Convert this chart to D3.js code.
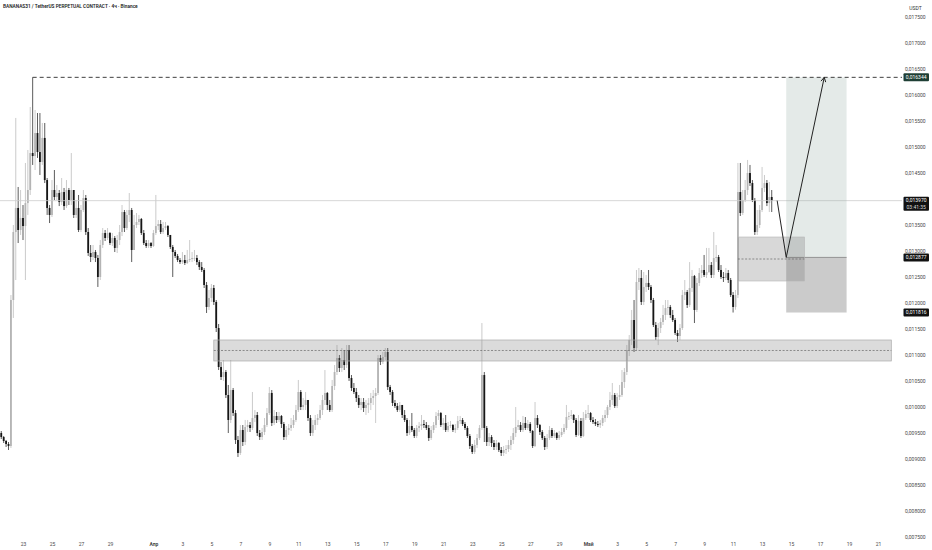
<!DOCTYPE html>
<html>
<head>
<meta charset="utf-8">
<script src="https://cdn.jsdelivr.net/npm/d3@7"></script>
<style>
    body { margin: 0; background: #fff; }
    svg { display: block; font-family: Roboto, "Liberation Sans", Arial, sans-serif; }
</style>
</head>
<body>
<div id="chart"></div>
<script>
// BANANAS31/USDT perp, 4h bars. Prices are stored as USDT x 1e6, open = previous close
const title = 'BANANAS31 / TetherUS PERPETUAL CONTRACT · 4ч · Binance';
const firstBarTime = Date.UTC(2025, 2, 21, 12);
const barHours = 4;
const firstOpen = 9496;

const closes = [
    9419, 9343, 9285, 9246, 12057, 13366, 13829, 13405, 13636, 13481,
    13924, 14175, 14887, 14829, 15272, 14906, 14714, 15177, 14367, 13829,
    13694, 14175, 14040, 14117, 13943, 14136, 13866, 14175, 13982, 14175,
    13694, 13829, 13405, 13790, 14021, 13366, 12962, 12885, 12981, 12866,
    12500, 13116, 13347, 13251, 13347, 13154, 13251, 13059, 13212, 13366,
    13751, 13443, 13694, 13790, 13020, 13501, 13559, 13617, 13347, 13154,
    13097, 13154, 13097, 13347, 13481, 13520, 13366, 13443, 13481, 13309,
    13078, 12981, 12905, 12827, 12788, 12827, 12769, 12827, 12846, 12866,
    12866, 12788, 12692, 12635, 12346, 11923, 12096, 12288, 12019, 11518,
    10767, 10575, 10671, 10228, 9747, 10324, 9881, 9362, 9112, 9554,
    9323, 9612, 9650, 9593, 9785, 9843, 9496, 9419, 9516, 9650,
    9881, 10267, 9689, 9824, 9747, 9824, 9670, 9419, 9554, 9593,
    9650, 9747, 9939, 10286, 9997, 10036, 10132, 9785, 9496, 9650,
    9747, 9785, 9939, 10132, 10267, 10036, 9939, 10401, 10671, 10940,
    10748, 10902, 10805, 11094, 10555, 10363, 10286, 10170, 10036, 10093,
    9978, 10036, 10074, 10170, 10209, 10267, 10940, 10864, 10960, 11056,
    10382, 10286, 10074, 10016, 9939, 10036, 9843, 9747, 9496, 9631,
    9554, 9439, 9593, 9631, 9670, 9650, 9593, 9400, 9554, 9650,
    9824, 9881, 9650, 9689, 9554, 9631, 9650, 9554, 9593, 9728,
    9747, 9670, 9593, 9439, 9246, 9131, 9265, 9400, 9593, 10613,
    9593, 9323, 9419, 9304, 9227, 9304, 9169, 9112, 9169, 9188,
    9265, 9362, 9496, 9612, 9650, 9554, 9689, 9593, 9670, 9535,
    9246, 9785, 9650, 9516, 9400, 9227, 9400, 9554, 9439, 9496,
    9400, 9458, 9516, 9593, 9804, 9824, 9843, 9747, 9458, 9728,
    9439, 9785, 9862, 9881, 9747, 9708, 9670, 9650, 9689, 9785,
    9843, 9997, 10132, 10228, 10016, 10190, 10228, 10478, 10671, 11094,
    11287, 11672, 11133, 12404, 12481, 12019, 12308, 12385, 12308, 12057,
    11576, 11345, 11518, 11634, 11768, 11903, 11923, 11768, 11672, 11422,
    11364, 11518, 12153, 12211, 11961, 12288, 12519, 11865, 12385, 12577,
    12635, 12539, 12596, 12731, 12539, 12866, 12885, 12635, 12500, 12481,
    12577, 12442, 12153, 11923, 12153, 14136, 13732, 13982, 14175, 14502,
    14309, 13982, 13366, 13501, 13790, 14214, 14309, 13924, 14040, 13970
];

const highs = [
    9535, 9438, 9362, 9323, 12153, 13501, 15562, 14233, 14175, 13886,
    14695, 14945, 15773, 16344, 15715, 15657, 15657, 15465, 15465, 14406,
    13886, 14367, 14560, 14271, 14175, 14406, 14214, 14367, 14214, 14887,
    14175, 13982, 14079, 13886, 14175, 14079, 13443, 13116, 13116, 13020,
    12924, 13212, 13443, 13405, 13443, 13366, 13347, 13289, 13309, 13501,
    13886, 13790, 13790, 14117, 13829, 13694, 13732, 13694, 13636, 13405,
    13212, 13212, 13174, 13405, 14079, 13597, 13597, 13559, 13559, 13501,
    13309, 13116, 13020, 12943, 12866, 12981, 12924, 13020, 13212, 12981,
    13020, 12924, 12827, 12788, 12673, 12404, 12250, 12365, 12346, 12057,
    11595, 10864, 10902, 10709, 10421, 10902, 10363, 9939, 9439, 9650,
    9650, 9747, 9747, 9708, 10286, 9939, 9901, 9554, 9593, 9785,
    9978, 10382, 10324, 9939, 9901, 9901, 9843, 9708, 9631, 9670,
    9785, 9843, 10036, 10517, 10324, 10170, 10286, 10132, 9843, 9747,
    9843, 9862, 10036, 10228, 10709, 10286, 10132, 10517, 10805, 11190,
    10998, 11133, 11094, 11190, 11190, 10613, 10459, 10363, 10228, 10170,
    10170, 10132, 10170, 10267, 10324, 10363, 10998, 10998, 11056, 11133,
    11133, 10421, 10324, 10132, 10074, 10093, 10036, 9939, 9785, 9747,
    9881, 9593, 9650, 9708, 9843, 9747, 9708, 9650, 9631, 9708,
    9901, 9939, 9901, 9785, 9843, 9708, 9728, 9670, 9670, 9824,
    9824, 9785, 9708, 9631, 9477, 9285, 9362, 9477, 9650, 11614,
    10671, 9631, 9496, 9458, 9362, 9362, 9323, 9227, 9246, 9265,
    9362, 9439, 9593, 9997, 9747, 9708, 9824, 9804, 9747, 9708,
    9554, 10093, 9843, 9670, 9554, 9439, 9477, 9631, 9593, 9554,
    9516, 9535, 9593, 9670, 10036, 9901, 9939, 9862, 9785, 9843,
    9785, 9901, 9939, 10036, 9901, 9804, 9766, 9728, 9747, 9843,
    9939, 10036, 10286, 10459, 10267, 10267, 10421, 10709, 10748, 11190,
    11383, 11865, 12057, 12635, 12673, 12635, 12596, 12539, 12635, 12346,
    12096, 11634, 11614, 11711, 11961, 12057, 12057, 11961, 11865, 11711,
    11480, 11595, 12250, 12442, 12250, 12788, 12635, 12539, 12481, 12673,
    12731, 12924, 13059, 13059, 12788, 13366, 13116, 12924, 12731, 12596,
    12673, 12635, 12481, 12211, 12250, 14695, 14695, 14175, 14367, 14753,
    14657, 14367, 14021, 13790, 13886, 14618, 14464, 14367, 14329, 14175
];

const lows = [
    9381, 9304, 9227, 9169, 9208, 11711, 12442, 13154, 13309, 13212,
    12442, 13694, 14079, 14657, 14560, 14792, 14464, 14657, 14309, 13694,
    13539, 13655, 13982, 13982, 13866, 13886, 13790, 13829, 13886, 13886,
    13636, 13636, 13366, 13366, 13751, 13309, 12905, 12788, 12827, 12788,
    12308, 12442, 13059, 13193, 13212, 13116, 13097, 12981, 12962, 13116,
    13289, 13366, 13405, 13559, 12788, 13020, 13443, 13501, 13309, 13116,
    13059, 13059, 13059, 13078, 13309, 13405, 13328, 13328, 13405, 13270,
    13039, 12500, 12866, 12788, 12750, 12750, 12731, 12750, 12788, 12788,
    12808, 12731, 12635, 12596, 12288, 11807, 11865, 12019, 11961, 11441,
    10709, 10517, 10498, 10170, 9496, 9689, 9824, 9285, 9035, 9073,
    9246, 9265, 9516, 9516, 9554, 9708, 9439, 9362, 9362, 9458,
    9612, 9843, 9631, 9650, 9689, 9708, 9593, 9362, 9362, 9458,
    9535, 9593, 9708, 9901, 9939, 9939, 9939, 9728, 9439, 9439,
    9554, 9650, 9747, 9843, 10036, 9939, 9901, 9901, 10324, 10613,
    10671, 10671, 10709, 10748, 10498, 10305, 10247, 10093, 9978, 9939,
    9901, 9843, 9881, 9939, 10036, 9689, 10228, 10805, 10825, 10902,
    10324, 10228, 10016, 9978, 9901, 9901, 9785, 9708, 9439, 9458,
    9516, 9400, 9400, 9516, 9554, 9593, 9554, 9343, 9362, 9496,
    9593, 9747, 9612, 9554, 9516, 9516, 9593, 9516, 9496, 9554,
    9670, 9631, 9554, 9400, 9188, 9092, 9092, 9208, 9362, 9554,
    9323, 9246, 9246, 9227, 9169, 9169, 9131, 9054, 9054, 9092,
    9131, 9169, 9285, 9419, 9554, 9516, 9516, 9554, 9554, 9496,
    9208, 9227, 9593, 9458, 9362, 9169, 9188, 9362, 9400, 9400,
    9362, 9362, 9419, 9477, 9554, 9747, 9766, 9689, 9419, 9439,
    9400, 9419, 9747, 9785, 9708, 9670, 9631, 9612, 9593, 9631,
    9708, 9785, 9939, 10036, 9978, 9978, 10132, 10190, 10363, 10613,
    10979, 11190, 11056, 11094, 12250, 11961, 11961, 12211, 12250, 11999,
    11537, 11287, 11190, 11422, 11576, 11672, 11768, 11711, 11634, 11383,
    11249, 11287, 11480, 12057, 11903, 11923, 12211, 11614, 11826, 12327,
    12481, 12500, 12481, 12577, 12481, 12481, 12788, 12596, 12462, 12404,
    12442, 12385, 12115, 11816, 11870, 12096, 13674, 13694, 13943, 14079,
    14252, 13943, 13309, 13309, 13443, 13751, 14136, 13866, 13751, 13751
];

// levels drawn on the chart (USDT x 1e6)
const resistanceLevel = 16344;
const lastPrice = 13970;
const countdown = '03:41:35';
const supportZone = [11287, 10883];
const supportZoneTime = ['2025-04-05T04:00Z', '2025-05-21T22:00Z'];
const demandBox = [13270, 12423];
const demandBoxTime = ['2025-05-11T08:00Z', '2025-05-15T22:00Z'];
const tradeLevels = [16344, 12877, 11816];     // target, entry, stop
const tradeTime = ['2025-05-14T16:00Z', '2025-05-18T20:00Z'];
const pathTimes = ['2025-05-14T01:00Z', '2025-05-14T16:00Z', '2025-05-17T07:00Z'];
const pathPrices = [13970, 12877, 16344];

const priceTicks = [7500, 8000, 8500, 9000, 9500, 10000, 10500, 11000, 11500, 12000,
    12500, 13000, 13500, 14000, 14500, 15000, 15500, 16000, 16500, 17000, 17500];
const marchDays = [23, 25, 27, 29];
const aprilDays = [1, 3, 5, 7, 9, 11, 13, 15, 17, 19, 21, 23, 25, 27, 29];
const mayDays = [1, 3, 5, 7, 9, 11, 13, 15, 17, 19, 21];
const monthNames = { 3: 'Апр', 4: 'Май' };

const width = 932,
    height = 550,
    plotRight = 902,
    fontSize = 5,
    upColor = '#b4b4b4',
    downColor = '#161616',
    p = v => v / 1e6;

const svg = d3.select('#chart')
    .append('svg')
    .attr('width', width)
    .attr('height', height);

svg.append('rect').attr('width', width).attr('height', height).attr('fill', '#fff');

const x = d3.scaleUtc()
        .domain([Date.UTC(2025, 2, 23), Date.UTC(2025, 4, 21)])
        .range([23, 878]),
    y = d3.scaleLinear()
        .domain([0.0075, 0.0175])
        .range([536.7, 17.3]);

// Build bars
const bars = closes.map((c, i) => {
    const o = i ? closes[i - 1] : firstOpen;
    return {
        t: new Date(firstBarTime + i * barHours * 3600e3),
        o: p(o),
        c: p(c),
        h: p(Math.max(highs[i], o, c)),
        l: p(Math.min(lows[i], o, c))
    };
});

// Candles
const candles = svg.append('g').selectAll('g')
    .data(bars)
    .enter()
    .append('g');

candles.append('line')
    .attr('x1', d => x(d.t))
    .attr('x2', d => x(d.t))
    .attr('y1', d => y(d.h))
    .attr('y2', d => y(d.l))
    .attr('stroke', d => d.c >= d.o ? upColor : downColor)
    .attr('stroke-width', 0.7);

candles.append('rect')
    .attr('x', d => x(d.t) - 0.9)
    .attr('width', 1.8)
    .attr('y', d => y(Math.max(d.o, d.c)))
    .attr('height', d => Math.max(0.8, Math.abs(y(d.o) - y(d.c))))
    .attr('fill', d => d.c >= d.o ? upColor : downColor);

// Last price line
svg.append('line')
    .attr('x1', 0).attr('x2', plotRight)
    .attr('y1', y(p(lastPrice))).attr('y2', y(p(lastPrice)))
    .attr('stroke', '#cdcdcd')
    .attr('stroke-width', 0.8);

// Support zone
const zx0 = x(new Date(supportZoneTime[0])), zx1 = x(new Date(supportZoneTime[1]));
svg.append('rect')
    .attr('x', zx0).attr('width', zx1 - zx0)
    .attr('y', y(p(supportZone[0])))
    .attr('height', y(p(supportZone[1])) - y(p(supportZone[0])))
    .attr('fill', 'rgba(125,125,125,0.28)')
    .attr('stroke', '#a9a9a9')
    .attr('stroke-width', 0.7);
svg.append('line')
    .attr('x1', zx0).attr('x2', zx1)
    .attr('y1', y(p((supportZone[0] + supportZone[1]) / 2)))
    .attr('y2', y(p((supportZone[0] + supportZone[1]) / 2)))
    .attr('stroke', '#555')
    .attr('stroke-width', 0.6)
    .attr('stroke-dasharray', '2,1.6');

// Trade setup (target / stop)
const tx0 = x(new Date(tradeTime[0])), tx1 = x(new Date(tradeTime[1]));
svg.append('rect')
    .attr('x', tx0).attr('width', tx1 - tx0)
    .attr('y', y(p(tradeLevels[0])))
    .attr('height', y(p(tradeLevels[1])) - y(p(tradeLevels[0])))
    .attr('fill', 'rgba(150,172,166,0.26)');
svg.append('rect')
    .attr('x', tx0).attr('width', tx1 - tx0)
    .attr('y', y(p(tradeLevels[1])))
    .attr('height', y(p(tradeLevels[2])) - y(p(tradeLevels[1])))
    .attr('fill', 'rgba(110,110,110,0.36)');
svg.append('line')
    .attr('x1', tx0).attr('x2', tx1)
    .attr('y1', y(p(tradeLevels[1]))).attr('y2', y(p(tradeLevels[1])))
    .attr('stroke', '#8c8c8c')
    .attr('stroke-width', 0.9);

// Demand box
const bx0 = x(new Date(demandBoxTime[0])), bx1 = x(new Date(demandBoxTime[1]));
svg.append('rect')
    .attr('x', bx0).attr('width', bx1 - bx0)
    .attr('y', y(p(demandBox[0])))
    .attr('height', y(p(demandBox[1])) - y(p(demandBox[0])))
    .attr('fill', 'rgba(110,110,110,0.27)')
    .attr('stroke', '#b4b4b4')
    .attr('stroke-width', 0.6);
svg.append('line')
    .attr('x1', bx0).attr('x2', bx1)
    .attr('y1', y(p((demandBox[0] + demandBox[1]) / 2)))
    .attr('y2', y(p((demandBox[0] + demandBox[1]) / 2)))
    .attr('stroke', '#555')
    .attr('stroke-width', 0.6)
    .attr('stroke-dasharray', '2,1.6');

// Resistance from the spike high
const topBar = bars.reduce((a, b) => b.h > a.h ? b : a);
svg.append('line')
    .attr('x1', x(topBar.t)).attr('x2', plotRight)
    .attr('y1', y(p(resistanceLevel))).attr('y2', y(p(resistanceLevel)))
    .attr('stroke', '#2a2a2a')
    .attr('stroke-width', 0.9)
    .attr('stroke-dasharray', '4,3');

// Projected path with arrow head
const pts = pathTimes.map((t, i) => [x(new Date(t)), y(p(pathPrices[i]))]);
svg.append('path')
    .attr('d', d3.line()(pts))
    .attr('fill', 'none')
    .attr('stroke', '#222')
    .attr('stroke-width', 1);
const end = pts[pts.length - 1], prev = pts[pts.length - 2],
    ang = Math.atan2(end[1] - prev[1], end[0] - prev[0]);
svg.append('path')
    .attr('d', d3.line()([
        [end[0] - 5 * Math.cos(ang - 0.5), end[1] - 5 * Math.sin(ang - 0.5)],
        end,
        [end[0] - 5 * Math.cos(ang + 0.5), end[1] - 5 * Math.sin(ang + 0.5)]
    ]))
    .attr('fill', 'none')
    .attr('stroke', '#222')
    .attr('stroke-width', 1);

// Price axis
const fmtPrice = v => d3.format('.6f')(v).replace('.', ',');
const yAxis = svg.append('g')
    .attr('transform', `translate(905, 0)`)
    .call(d3.axisRight(y)
        .tickValues(priceTicks.map(p))
        .tickSize(0)
        .tickPadding(0)
        .tickFormat(fmtPrice));
yAxis.select('.domain').remove();
yAxis.selectAll('text')
    .attr('font-size', fontSize)
    .attr('fill', '#4a4a4a')
    .attr('font-family', 'Roboto, Arial, sans-serif');

svg.append('text')
    .attr('x', 915.5).attr('y', 9.5)
    .attr('text-anchor', 'middle')
    .attr('font-size', fontSize)
    .attr('fill', '#333')
    .text('USDT');

// Time axis
const tickDates = [
    ...marchDays.map(d => Date.UTC(2025, 2, d)),
    ...aprilDays.map(d => Date.UTC(2025, 3, d)),
    ...mayDays.map(d => Date.UTC(2025, 4, d))
].map(t => new Date(t));
const xAxis = svg.append('g')
    .attr('transform', 'translate(0, 540)')
    .call(d3.axisBottom(x)
        .tickValues(tickDates)
        .tickSize(0)
        .tickPadding(2)
        .tickFormat(d => d.getUTCDate() === 1 ? monthNames[d.getUTCMonth()] : d.getUTCDate()));
xAxis.select('.domain').remove();
xAxis.selectAll('text')
    .attr('font-size', fontSize)
    .attr('fill', '#4a4a4a')
    .attr('font-weight', d => d.getUTCDate() === 1 ? 700 : 400)
    .attr('font-family', 'Roboto, Arial, sans-serif');

// Price labels on the axis
const labelBox = (value, bg, extra) => {
    const cy = y(p(value)), h = extra ? 14 : 8;
    const g = svg.append('g');
    g.append('rect')
        .attr('x', 903.5).attr('width', 25.5)
        .attr('y', cy - 4).attr('height', h)
        .attr('rx', 1)
        .attr('fill', bg);
    g.append('text')
        .attr('x', 916.2).attr('y', cy + 1.8)
        .attr('text-anchor', 'middle')
        .attr('font-size', fontSize)
        .attr('fill', '#fff')
        .text(fmtPrice(p(value)));
    if (extra) {
        g.append('text')
            .attr('x', 916.2).attr('y', cy + 8)
            .attr('text-anchor', 'middle')
            .attr('font-size', fontSize)
            .attr('fill', '#ddd')
            .text(extra);
    }
};
labelBox(resistanceLevel, '#1f3f35');
labelBox(lastPrice, '#111', countdown);
labelBox(tradeLevels[1], '#111');
labelBox(tradeLevels[2], '#111');

// Title
svg.append('text')
    .attr('x', 3).attr('y', 8)
    .attr('font-size', 4.75)
    .attr('font-weight', 600)
    .attr('fill', '#222')
    .text(title);
</script>
</body>
</html>
